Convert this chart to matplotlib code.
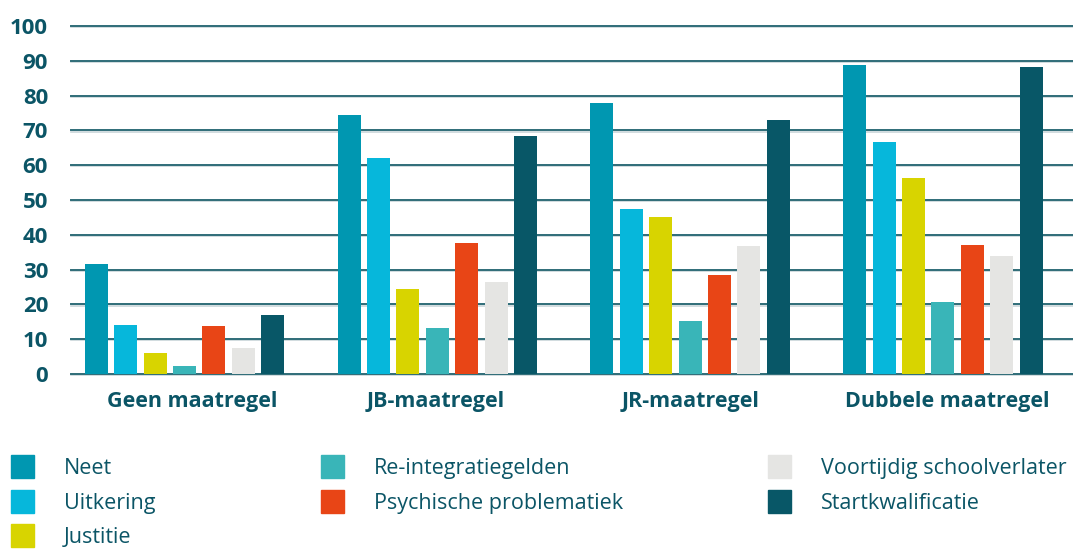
import matplotlib
matplotlib.use("Agg")
import matplotlib.pyplot as plt
import numpy as np
from matplotlib.patches import Rectangle

categories = ["Geen maatregel", "JB-maatregel", "JR-maatregel", "Dubbele maatregel"]
series = ["Neet", "Uitkering", "Justitie", "Re-integratiegelden",
          "Psychische problematiek", "Voortijdig schoolverlater", "Startkwalificatie"]
values = {
    "Neet":                      [31.6, 74.4, 77.9, 88.8],
    "Uitkering":                 [14.1, 62.1, 47.4, 66.7],
    "Justitie":                  [6.1, 24.4, 45.1, 56.3],
    "Re-integratiegelden":       [2.3, 13.2, 15.2, 20.7],
    "Psychische problematiek":   [13.8, 37.6, 28.4, 37.1],
    "Voortijdig schoolverlater": [7.5, 26.4, 36.8, 33.9],
    "Startkwalificatie":         [17.0, 68.4, 73.0, 88.2],
}
yticks = [0, 10, 20, 30, 40, 50, 60, 70, 80, 90, 100]

colors = ["#0097B1", "#06B7DB", "#D8D400", "#39B5B8", "#E84516", "#E5E5E3", "#085767"]
text_color = "#0B5566"

plt.rcParams['font.family'] = ['Open Sans', 'DejaVu Sans']
plt.rcParams['font.stretch'] = 'normal'

fig = plt.figure(figsize=(10.73, 5.52), dpi=100)
W, H = 1073, 552
ax = fig.add_axes([71 / W, 1 - 374 / H, (1073 - 71) / W, (374 - 26) / H])

x = np.arange(len(categories))
step = 0.1163
width = 0.091
for i, s in enumerate(series):
    ax.bar(x + (i - 3) * step, values[s], width=width, color=colors[i], zorder=3)

ax.set_ylim(0, 100)
ax.set_xlim(-0.449, 3.515)
ax.set_yticks(yticks)
ax.set_yticklabels([str(t) for t in yticks], fontsize=16, fontweight='bold',
                   color=text_color, fontstretch='normal')
ax.set_xticks(x + np.array([0.03, -0.006, 0.002, 0.016]))
ax.set_xticklabels(categories, fontsize=15.5, fontweight='bold', color=text_color,
                   fontstretch='normal')
ax.tick_params(axis='both', length=0)
ax.tick_params(axis='y', pad=16.5)
ax.tick_params(axis='x', pad=12)
for sp in ax.spines.values():
    sp.set_visible(False)
for t in yticks:
    ax.axhline(t - 0.35, color="#c9d6d9", lw=1.2, zorder=1, clip_on=False)
    ax.axhline(t, color="#2f6c78", lw=1.4, zorder=2, clip_on=False)

# legend
cols_x = [11, 321, 768]
text_dx = 53
rows_y = [466.5, 501.5, 535.5]
layout = [(0, 0), (0, 1), (0, 2), (1, 0), (1, 1), (2, 0), (2, 1)]
for i, s in enumerate(series):
    c, r = layout[i]
    px = cols_x[c]
    py = rows_y[r]
    fig.add_artist(Rectangle((px / W, 1 - (py + 11.5) / H), 23 / W, 23 / H,
                             transform=fig.transFigure, color=colors[i]))
    fig.text((px + text_dx) / W, 1 - (py + 2) / H, s, fontsize=15.5, color=text_color,
             va='center', ha='left', fontstretch='normal')

fig.savefig("out.png", dpi=100)
